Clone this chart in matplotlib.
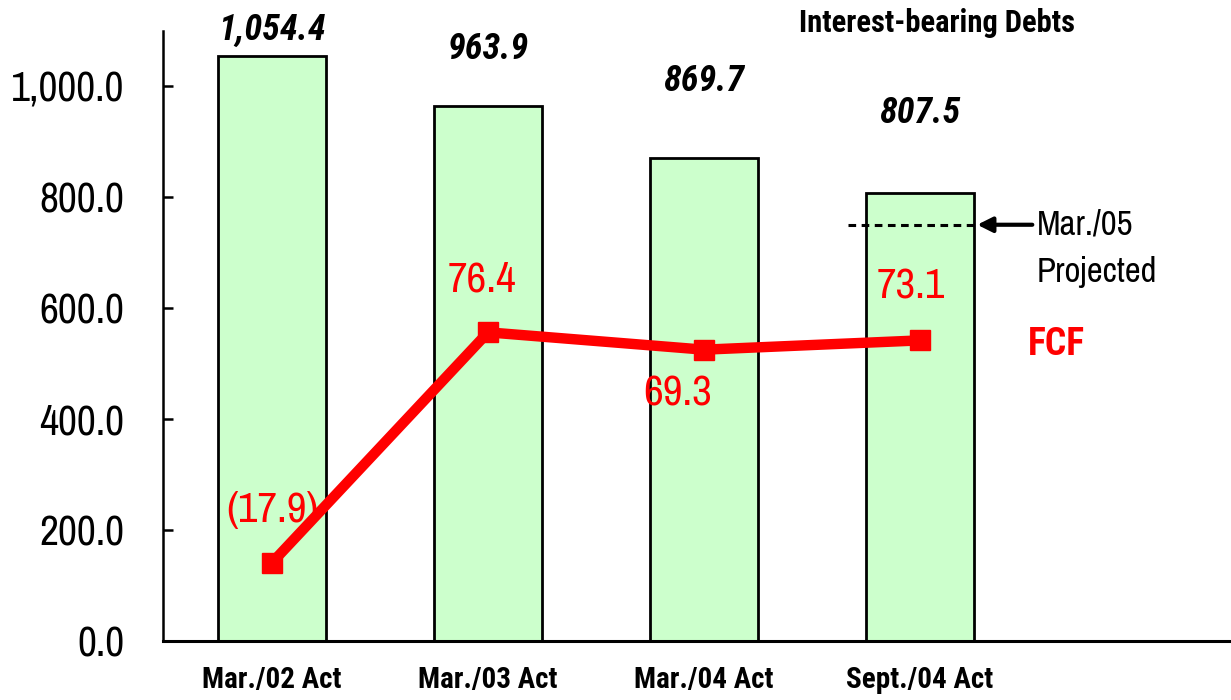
import matplotlib
matplotlib.use("Agg")
import matplotlib.pyplot as plt
from matplotlib import font_manager as fm
import numpy as np

# ---- data ----
categories = ["Mar./02 Act", "Mar./03 Act", "Mar./04 Act", "Sept./04 Act"]
debts = [1054.4, 963.9, 869.7, 807.5]
debt_labels = ["1,054.4", "963.9", "869.7", "807.5"]
fcf = [-17.9, 76.4, 69.3, 73.1]
fcf_labels = ["(17.9)", "76.4", "69.3", "73.1"]
projected_mar05 = 750.0
yticks = [0, 200, 400, 600, 800, 1000]
ytick_labels = ["0.0", "200.0", "400.0", "600.0", "800.0", "1,000.0"]

# ---- styling / offsets ----
debt_label_dy = [46, 103, 140, 143]
fcf_label_dy = [21.5, 21.5, -18, 22]
fcf_label_dx = [0.0, -0.03, -0.12, -0.04]

_fonts = fm.fontManager.ttflist
_avail = {f.name for f in _fonts}
_bold_avail = {f.name for f in _fonts if (f.weight if isinstance(f.weight, int) else 400) >= 700
               or f.weight in ("bold", "heavy", "black")}
_bi_avail = {f.name for f in _fonts if f.name in _bold_avail and f.style == "italic"
             and (f.weight if isinstance(f.weight, int) else 700) >= 700}
_cands = ["Arial Narrow", "Liberation Sans Narrow", "Archivo Narrow", "Roboto Condensed",
          "Asap Condensed", "Barlow Condensed", "DejaVu Sans"]
_bcands = ["Arial Narrow", "Liberation Sans Narrow", "Roboto Condensed", "Asap Condensed",
           "Barlow Condensed", "Archivo Narrow", "DejaVu Sans"]
NARROW = [next(c for c in _cands if c in _avail), "DejaVu Sans"]
NARROW_B = [next((c for c in _bcands if c in _bold_avail), "DejaVu Sans"), "DejaVu Sans"]
NARROW_BI = [next((c for c in _bcands if c in _bi_avail), NARROW_B[0]), "DejaVu Sans"]

fig = plt.figure(figsize=(12.31, 7.0), dpi=100)
ax = fig.add_axes([163/1231, 1 - 641/700, 1 - 163/1231, (641 - 30.5)/700])
x = np.arange(len(categories))

ax.bar(x, debts, width=0.5, color="#CCFFCC", edgecolor="black", linewidth=2, zorder=2)
ax.set_xlim(-0.505, 4.44)
ax.set_ylim(0, 1100)
ax.set_yticks(yticks)
ax.set_yticklabels(ytick_labels, family=NARROW, fontsize=30)
ax.set_xticks(x)
ax.set_xticklabels(categories, family=NARROW_B, fontsize=21, fontweight="bold")
ax.tick_params(axis="y", direction="in", length=7, width=1.8, pad=28)
ax.tick_params(axis="x", length=0, pad=18)
for s in ["top", "right"]:
    ax.spines[s].set_visible(False)
ax.spines["left"].set_linewidth(1.8)
ax.spines["bottom"].set_linewidth(2.2)

for xi, v, lab, dy in zip(x, debts, debt_labels, debt_label_dy):
    ax.text(xi, v + dy, lab, ha="center", va="center", family=NARROW_BI,
            fontsize=26, fontweight="bold", fontstyle="italic", clip_on=False)

# projected line and annotation
ax.plot([2.667, 3.26], [projected_mar05, projected_mar05], color="black",
        linestyle=(0, (2.5, 1.8)), linewidth=2.2, zorder=3)
ax.annotate("", xy=(3.265, projected_mar05), xytext=(3.52, projected_mar05),
            arrowprops=dict(arrowstyle="-|>,head_length=0.9,head_width=0.45",
                            color="black", lw=3, shrinkA=0, shrinkB=0), zorder=3)
ax.text(3.54, projected_mar05, "Mar./05", ha="left", va="center", family=NARROW, fontsize=25)
ax.text(3.54, 665, "Projected", ha="left", va="center", family=NARROW, fontsize=25)

ax.text(3.08, 1113, "Interest-bearing Debts", ha="center", va="center", family=NARROW_B,
        fontsize=22, fontweight="bold", clip_on=False)

# FCF on hidden secondary axis
ax2 = ax.twinx()
ax2.set_ylim(-50, 200)
ax2.axis("off")
ax2.plot(x, fcf, color="#FF0000", linewidth=7.5, marker="s", markersize=15,
         solid_joinstyle="miter", zorder=4)
for xi, v, lab, dx, dy in zip(x, fcf, fcf_labels, fcf_label_dx, fcf_label_dy):
    ax2.text(xi + dx, v + dy, lab, ha="center", va="center", family=NARROW,
             fontsize=31, color="#FF0000")
ax2.text(3.63, -50 + 535/4.4, "FCF", ha="center", va="center", family=NARROW_B,
         fontsize=27, fontweight="bold", color="#FF0000")

fig.savefig("out.png", dpi=100)
